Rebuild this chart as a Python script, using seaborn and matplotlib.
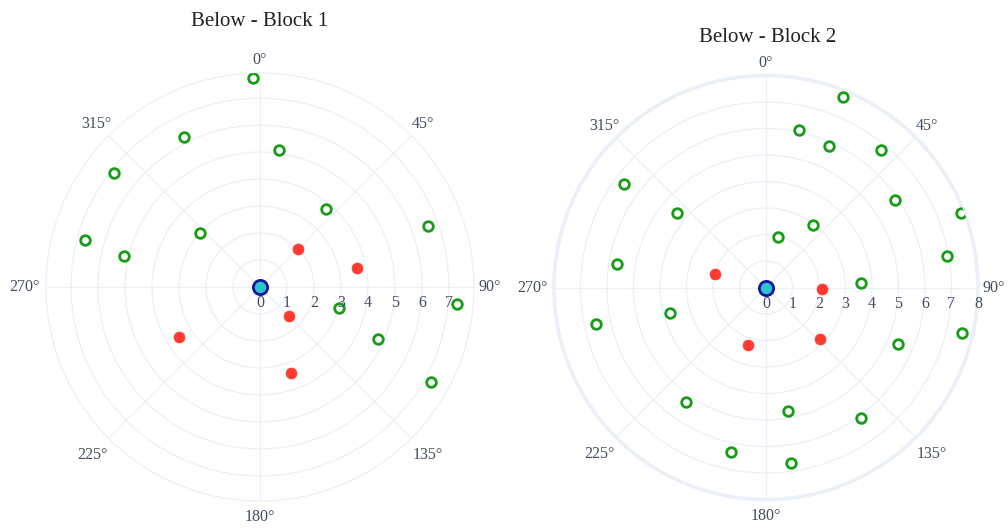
import numpy as np
import pandas as pd
import matplotlib
matplotlib.use("Agg")
import matplotlib.pyplot as plt
import matplotlib.transforms as mtransforms
import seaborn as sns

# ---- data (angle in degrees, clockwise from north; radial distance) ----
block1_green_theta = [358, 333, 8, 308, 40, 70, 285, 312, 283, 105, 95, 114, 119]
block1_green_r = [7.76, 6.23, 5.11, 6.86, 3.78, 6.63, 6.71, 2.98, 5.19, 3.03, 7.34, 4.78, 7.23]
block1_red_theta = [45, 79, 135, 238, 160]
block1_red_r = [1.98, 3.65, 1.51, 3.53, 3.40]

block2_green_theta = [22, 12, 24, 40, 306, 310, 56, 69, 37, 13, 80, 279,
                      87, 255, 258, 103, 113, 215, 170, 144, 192, 172]
block2_green_r = [7.76, 6.08, 5.83, 6.77, 6.64, 4.38, 5.89, 7.87, 2.95, 1.95, 6.95, 5.69,
                  3.60, 3.76, 6.54, 7.59, 5.41, 5.26, 4.73, 6.09, 6.33, 6.69]
block2_red_theta = [285, 92, 134, 197]
block2_red_r = [1.99, 2.13, 2.81, 2.28]

origin_theta = [0]
origin_r = [0]

titles = ["Below - Block 1", "Below - Block 2"]
angle_ticks = [0, 45, 90, 135, 180, 225, 270, 315]
angle_labels = [f"{a}°" for a in angle_ticks]
radial_ticks_1 = [0, 1, 2, 3, 4, 5, 6, 7]
radial_ticks_2 = [0, 1, 2, 3, 4, 5, 6, 7, 8]

# gap (in pixels) between the outer circle and each angular label's centre
angle_label_gap = [13, 16, 16, 23, 16, 23, 22, 17]

# ---- style ----
sns.set_style("white")
plt.rcParams["font.family"] = ["Liberation Serif", "DejaVu Serif"]

GRID = "#EBF0F8"
TEXT = "#434c5e"
GREEN = "#179c17"
RED = "#ff3b2f"
NAVY = "#1515a3"
CYAN = "#2cc6c9"
DPI = 100

fig = plt.figure(figsize=(10.08, 5.30), dpi=DPI)


def make_frame(theta, r):
    return pd.DataFrame({"theta": np.deg2rad(theta), "r": r})


def draw_panel(rect, green, red, rmax, rticks, title, title_xy, outer_lw, outer_color):
    ax = fig.add_axes(rect, projection="polar")
    ax.set_theta_zero_location("N")
    ax.set_theta_direction(-1)
    ax.set_ylim(0, rmax)
    ax.set_facecolor("white")

    ax.set_thetagrids(angle_ticks, labels=[""] * len(angle_ticks))
    ax.set_rgrids([t for t in rticks[1:] if t < rmax - 0.01], labels=[])
    ax.grid(True, color=GRID, linewidth=0.9)
    ax.spines["polar"].set_color(outer_color)
    ax.spines["polar"].set_linewidth(outer_lw)

    sns.scatterplot(data=green, x="theta", y="r", ax=ax, s=48,
                    facecolor="white", edgecolor=GREEN, linewidth=2.0,
                    zorder=3, legend=False)
    sns.scatterplot(data=red, x="theta", y="r", ax=ax, s=62,
                    color=RED, edgecolor=RED, linewidth=0.5,
                    zorder=3, legend=False)
    sns.scatterplot(data=make_frame(origin_theta, origin_r), x="theta", y="r",
                    ax=ax, s=105, color=CYAN, edgecolor=NAVY, linewidth=2.0,
                    zorder=4, legend=False, clip_on=False)
    ax.set_xlabel("")
    ax.set_ylabel("")

    # angular labels just outside the outer circle
    for ang, lab, gap in zip(angle_ticks, angle_labels, angle_label_gap):
        a = np.deg2rad(ang)
        dx = gap * np.sin(a) * 72 / DPI
        dy = gap * np.cos(a) * 72 / DPI
        tr = mtransforms.offset_copy(ax.transData, fig=fig, x=dx, y=dy, units="points")
        ax.text(a, rmax, lab, transform=tr, ha="center", va="center",
                fontsize=11.5, color=TEXT, clip_on=False)

    # radial tick labels below the east-pointing axis line
    trans = mtransforms.offset_copy(ax.transData, fig=fig, x=0, y=-6, units="points")
    for t in rticks:
        ax.text(np.pi / 2, t, str(t), transform=trans, ha="center", va="top",
                fontsize=11.5, color=TEXT, zorder=5, clip_on=False)

    fig.text(title_xy[0], title_xy[1], title, ha="center", va="center",
             fontsize=15, color="#222222")
    return ax


draw_panel([0.0456, 0.0547, 0.4246, 0.8075],
           make_frame(block1_green_theta, block1_green_r),
           make_frame(block1_red_theta, block1_red_r),
           7.93, radial_ticks_1, titles[0], (260 / 1008, 1 - 22 / 530), 0.9, GRID)

draw_panel([0.5496, 0.0575, 0.4206, 0.80],
           make_frame(block2_green_theta, block2_green_r),
           make_frame(block2_red_theta, block2_red_r),
           8.0, radial_ticks_2, titles[1], (768 / 1008, 1 - 37 / 530), 2.6, "#EBEFF7")

fig.savefig("out.png", dpi=DPI, facecolor="white")
